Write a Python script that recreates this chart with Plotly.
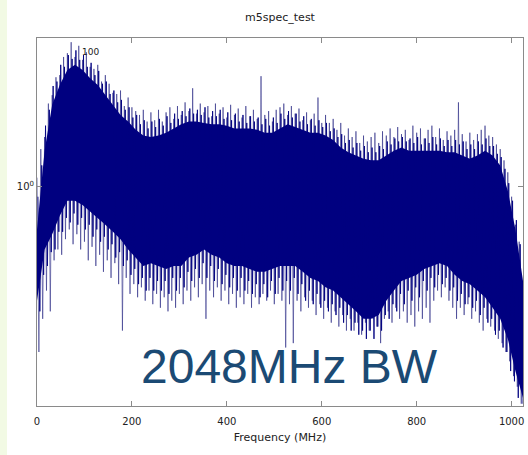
import plotly.graph_objects as go

# ---- data (power, linear units; log y axis) ----
# outer spike tips (upper) every 8 MHz starting at 0 MHz
spike_hi = [1.05, 1.22, 1.30, 1.55, 1.62, 1.78, 1.80, 1.98, 2.02, 2.14, 1.98, 2.10, 1.95, 2.03, 1.88, 1.86,
            1.90, 1.74, 1.80, 1.72, 1.64, 1.63, 1.66, 1.53, 1.60, 1.52, 1.49, 1.46, 1.50, 1.41, 1.48, 1.42,
            1.50, 1.41, 1.48, 1.52, 1.43, 1.53, 1.46, 1.56, 1.49, 1.68, 1.47, 1.55, 1.48, 1.53, 1.45, 1.55,
            1.47, 1.52, 1.44, 1.54, 1.46, 1.51, 1.44, 1.53, 1.45, 1.50, 1.43, 1.79, 1.46, 1.49, 1.41, 1.50,
            1.52, 1.55, 1.46, 1.53, 1.47, 1.51, 1.42, 1.48, 1.42, 1.47, 1.60, 1.40, 1.46, 1.40, 1.43, 1.35,
            1.40, 1.31, 1.36, 1.30, 1.34, 1.26, 1.31, 1.27, 1.30, 1.33, 1.26, 1.34, 1.31, 1.36, 1.30, 1.37,
            1.32, 1.35, 1.28, 1.38, 1.33, 1.36, 1.29, 1.35, 1.38, 1.30, 1.36, 1.28, 1.34, 1.31, 1.35, 1.56,
            1.32, 1.27, 1.33, 1.28, 1.32, 1.35, 1.38, 1.31, 1.30, 1.25, 1.22, 1.15, 1.08, 0.95, 0.82, 0.75]
# outer spike tips (lower) every 8 MHz starting at 4 MHz
spike_lo = [0.42, 0.50, 0.58, 0.52, 0.68, 0.72, 0.70, 0.76, 0.80, 0.74, 0.78, 0.72, 0.75, 0.68, 0.73, 0.66,
            0.70, 0.64, 0.68, 0.62, 0.67, 0.60, 0.47, 0.62, 0.57, 0.60, 0.56, 0.59, 0.55, 0.58, 0.54, 0.57,
            0.53, 0.56, 0.52, 0.55, 0.53, 0.57, 0.54, 0.58, 0.55, 0.59, 0.56, 0.60, 0.50, 0.58, 0.56, 0.59,
            0.55, 0.58, 0.54, 0.57, 0.53, 0.56, 0.54, 0.57, 0.53, 0.56, 0.54, 0.57, 0.55, 0.58, 0.54, 0.57,
            0.55, 0.43, 0.54, 0.44, 0.55, 0.52, 0.56, 0.53, 0.55, 0.51, 0.54, 0.50, 0.53, 0.49, 0.52, 0.48,
            0.51, 0.47, 0.50, 0.47, 0.49, 0.46, 0.49, 0.47, 0.50, 0.48, 0.44, 0.50, 0.52, 0.49, 0.53, 0.50,
            0.52, 0.49, 0.51, 0.48, 0.52, 0.50, 0.53, 0.49, 0.55, 0.58, 0.56, 0.59, 0.55, 0.53, 0.50, 0.53,
            0.51, 0.54, 0.50, 0.52, 0.49, 0.47, 0.50, 0.48, 0.47, 0.45, 0.44, 0.42, 0.40, 0.37, 0.35, 0.32]
# inner fringe (upper) every 8 MHz starting at 2 MHz
fringe_hi = [0.95, 1.12, 1.38, 1.50, 1.70, 1.74, 1.90, 1.88, 2.00, 1.96, 2.05, 1.95, 2.00, 1.88, 1.92, 1.80,
             1.84, 1.72, 1.74, 1.63, 1.66, 1.56, 1.58, 1.50, 1.52, 1.44, 1.46, 1.39, 1.42, 1.36, 1.41, 1.37,
             1.43, 1.38, 1.45, 1.40, 1.47, 1.43, 1.49, 1.45, 1.51, 1.47, 1.50, 1.46, 1.52, 1.44, 1.49, 1.45,
             1.50, 1.43, 1.48, 1.42, 1.47, 1.41, 1.46, 1.40, 1.45, 1.41, 1.44, 1.39, 1.43, 1.38, 1.44, 1.40,
             1.47, 1.43, 1.49, 1.44, 1.47, 1.41, 1.45, 1.39, 1.43, 1.38, 1.42, 1.37, 1.40, 1.34, 1.36, 1.30,
             1.32, 1.26, 1.28, 1.23, 1.26, 1.21, 1.24, 1.20, 1.23, 1.20, 1.24, 1.22, 1.27, 1.25, 1.29, 1.27,
             1.30, 1.27, 1.29, 1.26, 1.30, 1.25, 1.29, 1.26, 1.30, 1.25, 1.29, 1.24, 1.28, 1.24, 1.28, 1.25,
             1.27, 1.22, 1.25, 1.22, 1.27, 1.25, 1.29, 1.24, 1.24, 1.19, 1.17, 1.10, 1.02, 0.93, 0.84, 0.74]
# inner fringe (lower) every 8 MHz starting at 6 MHz
fringe_lo = [0.52, 0.63, 0.66, 0.71, 0.72, 0.79, 0.79, 0.85, 0.83, 0.87, 0.82, 0.85, 0.80, 0.82, 0.77, 0.80,
             0.75, 0.77, 0.72, 0.74, 0.69, 0.71, 0.66, 0.68, 0.63, 0.65, 0.60, 0.62, 0.58, 0.62, 0.58, 0.61,
             0.58, 0.61, 0.57, 0.62, 0.58, 0.62, 0.59, 0.64, 0.61, 0.65, 0.62, 0.67, 0.62, 0.66, 0.61, 0.65,
             0.60, 0.63, 0.59, 0.62, 0.58, 0.62, 0.58, 0.61, 0.57, 0.60, 0.56, 0.60, 0.56, 0.61, 0.57, 0.62,
             0.58, 0.61, 0.58, 0.62, 0.57, 0.60, 0.55, 0.58, 0.54, 0.57, 0.53, 0.55, 0.52, 0.54, 0.51, 0.53,
             0.49, 0.51, 0.47, 0.49, 0.46, 0.47, 0.45, 0.47, 0.45, 0.48, 0.47, 0.51, 0.50, 0.54, 0.52, 0.57,
             0.54, 0.58, 0.55, 0.59, 0.56, 0.61, 0.58, 0.62, 0.59, 0.63, 0.60, 0.62, 0.58, 0.59, 0.55, 0.57,
             0.54, 0.56, 0.53, 0.55, 0.51, 0.53, 0.49, 0.50, 0.46, 0.47, 0.43, 0.42, 0.38, 0.36, 0.33, 0.32]
# dense core envelope every 16 MHz (0..1024)
core_hi = [0.80, 1.21, 1.54, 1.71, 1.85, 1.90, 1.85, 1.77, 1.71, 1.62, 1.54, 1.46, 1.41, 1.35, 1.31, 1.30,
           1.31, 1.33, 1.36, 1.39, 1.41, 1.41, 1.40, 1.39, 1.39, 1.38, 1.36, 1.36, 1.36, 1.35, 1.33, 1.33,
           1.36, 1.39, 1.37, 1.35, 1.33, 1.33, 1.31, 1.28, 1.23, 1.20, 1.18, 1.16, 1.15, 1.15, 1.18, 1.21,
           1.23, 1.21, 1.21, 1.21, 1.21, 1.21, 1.20, 1.20, 1.18, 1.16, 1.18, 1.21, 1.18, 1.12, 0.98, 0.80, 0.61]
core_lo = [0.55, 0.72, 0.78, 0.86, 0.93, 0.93, 0.91, 0.88, 0.85, 0.82, 0.79, 0.76, 0.72, 0.69, 0.66, 0.67,
           0.66, 0.65, 0.66, 0.66, 0.69, 0.70, 0.72, 0.70, 0.69, 0.67, 0.66, 0.66, 0.65, 0.64, 0.64, 0.65,
           0.66, 0.66, 0.66, 0.64, 0.62, 0.61, 0.59, 0.58, 0.56, 0.54, 0.52, 0.50, 0.50, 0.51, 0.55, 0.58,
           0.61, 0.62, 0.63, 0.65, 0.66, 0.67, 0.66, 0.63, 0.61, 0.60, 0.58, 0.56, 0.53, 0.50, 0.45, 0.38, 0.33]

freq_spike_hi = list(range(0, 1024, 8))
freq_spike_lo = list(range(4, 1024, 8))
freq_fringe_hi = list(range(2, 1024, 8))
freq_fringe_lo = list(range(6, 1024, 8))
freq_core = list(range(0, 1025, 16))

x_tick_vals = [0, 200, 400, 600, 800, 1000]
x_tick_text = ["0", "200", "400", "600", "800", "1000"]
y_tick_vals = [1]
y_tick_text = ["10<sup>0</sup>"]

NAVY = "#000080"
AX = "#8a8a8a"


def interleave(fa, va, fb, vb):
    xs, ys = [], []
    for a, b, c, d in zip(fa, va, fb, vb):
        xs += [a, c]
        ys += [b, d]
    return xs, ys


sx, sy = interleave(freq_spike_hi, spike_hi, freq_spike_lo, spike_lo)
fx, fy = interleave(freq_fringe_hi, fringe_hi, freq_fringe_lo, fringe_lo)

fig = go.Figure()
# outer spikes first (lighter thin lines), then the solid core, then the inner fringe
fig.add_trace(go.Scatter(x=sx, y=sy, mode="lines", line=dict(color="#2a2a85", width=0.6),
                         showlegend=False))
fig.add_trace(go.Scatter(x=freq_core, y=core_lo, mode="lines", line=dict(color=NAVY, width=0),
                         hoverinfo="skip", showlegend=False))
fig.add_trace(go.Scatter(x=freq_core, y=core_hi, mode="lines", line=dict(color=NAVY, width=0),
                         fill="tonexty", fillcolor=NAVY, hoverinfo="skip", showlegend=False))
fig.add_trace(go.Scatter(x=fx, y=fy, mode="lines", line=dict(color=NAVY, width=0.9),
                         showlegend=False))

fig.update_layout(
    width=528, height=455,
    margin=dict(l=37, r=5, t=38, b=49),
    paper_bgcolor="white", plot_bgcolor="white",
    font=dict(family="DejaVu Sans, Arial, sans-serif", size=11, color="#222222"),
    title=dict(text="m5spec_test", x=0.5, xref="paper", xanchor="center",
               y=1 - 17 / 455, yanchor="middle", font=dict(size=11, color="#222222")),
    xaxis=dict(range=[0, 1024], tickvals=x_tick_vals, ticktext=x_tick_text,
               ticks="inside", ticklen=5, tickcolor=AX, showline=True, linecolor=AX, linewidth=1,
               mirror="ticks", showgrid=False, zeroline=False, ticklabelstandoff=6,
               title=dict(text="Frequency (MHz)", standoff=7, font=dict(size=11)),
               tickfont=dict(size=10)),
    yaxis=dict(type="log", range=[-0.5, 0.34], tickvals=y_tick_vals, ticktext=y_tick_text,
               ticks="inside", ticklen=5, tickcolor=AX, showline=True, linecolor=AX, linewidth=1,
               mirror="ticks", showgrid=False, zeroline=False, tickfont=dict(size=10)),
    shapes=[dict(type="rect", xref="paper", yref="paper", x0=-37 / 486, x1=(7 - 37) / 486,
                 y0=-49 / 368, y1=(455 - 49) / 368, fillcolor="#f2fae4", line=dict(width=0),
                 layer="below")],
    annotations=[
        dict(text="2048MHz BW", xref="paper", yref="paper", x=(289 - 37) / 486, y=(406 - 366) / 368,
             xanchor="center", yanchor="middle", showarrow=False,
             font=dict(family="Liberation Sans, Arial, sans-serif", size=48, color="#1b4a74")),
        dict(text="100", xref="x", yref="paper", x=112, y=(406 - 52) / 368,
             xanchor="center", yanchor="middle", showarrow=False,
             font=dict(size=9, color="#222222")),
    ],
)

fig.write_html("out.html")
